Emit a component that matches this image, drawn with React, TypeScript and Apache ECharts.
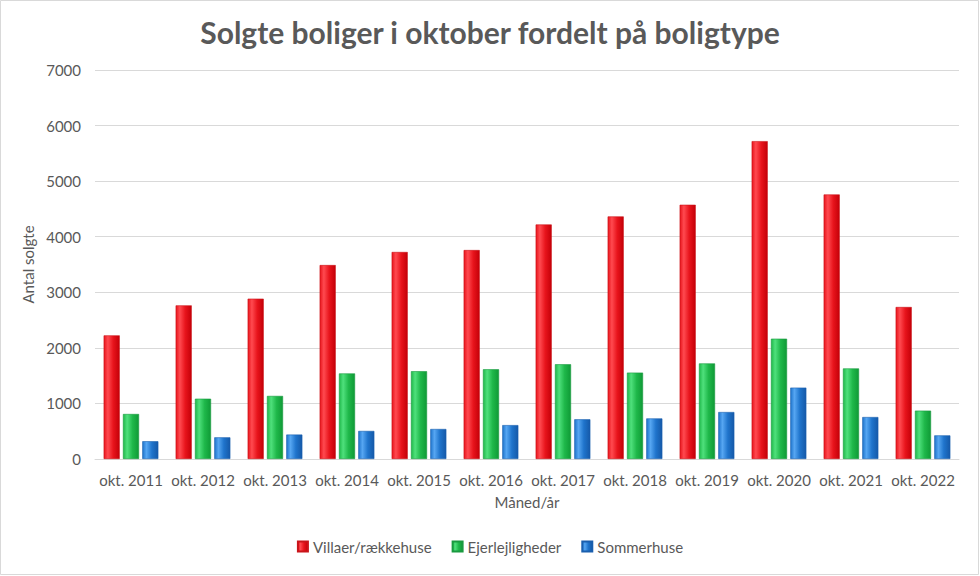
import React, { useEffect, useRef } from "react";
import * as echarts from "echarts";

const categories = [
  "okt. 2011", "okt. 2012", "okt. 2013", "okt. 2014", "okt. 2015", "okt. 2016",
  "okt. 2017", "okt. 2018", "okt. 2019", "okt. 2020", "okt. 2021", "okt. 2022",
];
const villaer = [2225, 2765, 2885, 3490, 3725, 3760, 4220, 4365, 4575, 5720, 4760, 2735];
const ejerlejligheder = [810, 1085, 1135, 1540, 1580, 1615, 1705, 1555, 1720, 2165, 1630, 870];
const sommerhuse = [320, 390, 440, 505, 540, 610, 715, 730, 845, 1285, 755, 425];
const seriesNames = ["Villaer/rækkehuse", "Ejerlejligheder", "Sommerhuse"];

const grad = (light: string, mid: string, dark: string) =>
  new echarts.graphic.LinearGradient(0, 0, 1, 0, [
    { offset: 0, color: mid },
    { offset: 0.25, color: light },
    { offset: 0.6, color: mid },
    { offset: 1, color: dark },
  ]);

export default function App() {
  const ref = useRef<HTMLDivElement>(null);
  useEffect(() => {
    if (!ref.current) return;
    const chart = echarts.init(ref.current, null, { renderer: "svg" });
    const font = "Lato, 'Open Sans', sans-serif";
    const textColor = "#595959";
    const mk = (name: string, data: number[], fill: any, border: string, legendColor: string) => ({
      name,
      type: "bar",
      data,
      barGap: "20%",
      barCategoryGap: "24%",
      itemStyle: { color: fill, borderColor: border, borderWidth: 0.6 },
      color: legendColor,
    });
    chart.setOption({
      animation: false,
      backgroundColor: "#ffffff",
      textStyle: { fontFamily: font },
      title: {
        text: "Solgte boliger i oktober fordelt på boligtype",
        left: "center",
        top: 12,
        textStyle: { fontFamily: font, fontSize: 30, fontWeight: "bold", color: textColor },
      },
      graphic: [
        {
          type: "rect",
          shape: { x: 0.5, y: 0.5, width: 978, height: 574 },
          style: { fill: "none", stroke: "#d9d9d9", lineWidth: 1 },
          silent: true,
          z: -1,
        },
      ],
      legend: {
        bottom: 17,
        left: "center",
        itemWidth: 10,
        itemHeight: 10,
        itemGap: 20,
        icon: "rect",
        textStyle: { fontFamily: font, fontSize: 15, color: textColor },
        data: seriesNames,
      },
      grid: { left: 95, right: 21, top: 70, bottom: 117 },
      xAxis: {
        type: "category",
        data: categories,
        name: "Måned/år",
        nameLocation: "middle",
        nameGap: 35,
        nameTextStyle: { fontFamily: font, fontSize: 15, color: textColor },
        axisLine: { lineStyle: { color: "#d9d9d9" } },
        axisTick: { show: false },
        axisLabel: { fontFamily: font, fontSize: 15, color: textColor, margin: 13, interval: 0 },
      },
      yAxis: {
        type: "value",
        min: 0,
        max: 7000,
        interval: 1000,
        name: "Antal solgte",
        nameLocation: "middle",
        nameGap: 48,
        nameTextStyle: { fontFamily: font, fontSize: 15, color: textColor },
        axisLine: { show: false },
        axisTick: { show: false },
        axisLabel: {
          fontFamily: font,
          fontSize: 15,
          color: textColor,
          margin: 14,
          formatter: (v: number) => String(v),
        },
        splitLine: { lineStyle: { color: "#d9d9d9" } },
      },
      series: [
        mk(seriesNames[0], villaer, grad("#ff4a50", "#e8141c", "#c40008"), "#c9141a", "#e01820"),
        mk(seriesNames[1], ejerlejligheder, grad("#4fe07c", "#1fb84a", "#0f9a36"), "#1a9a40", "#20b34a"),
        mk(seriesNames[2], sommerhuse, grad("#56a6f2", "#1f74cc", "#1559a8"), "#1a5fae", "#1f6fc8"),
      ],
    });
    return () => chart.dispose();
  }, []);
  return (
    <div
      ref={ref}
      style={{ position: "fixed", left: 0, top: 0, width: 980, height: 576 }}
    />
  );
}
